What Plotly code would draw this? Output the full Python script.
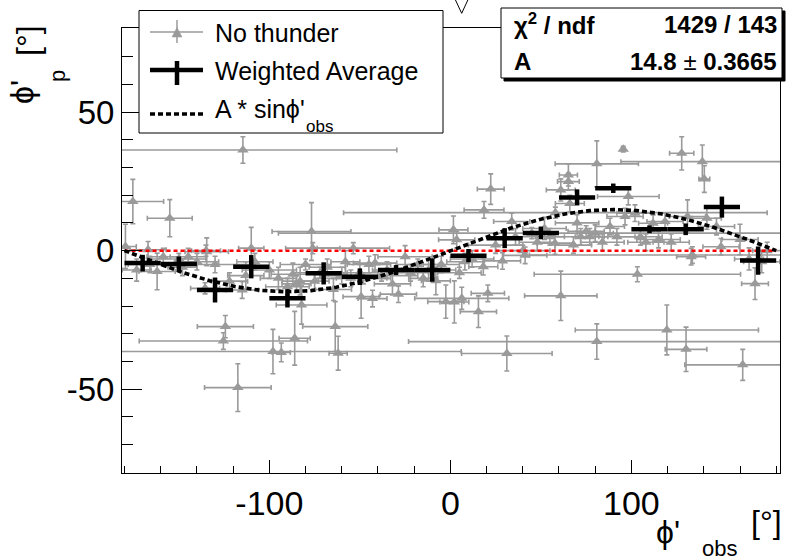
import numpy as np
import plotly.graph_objects as go

# ---------------- data ----------------
# grey points "No thunder": x, y, x-error, y-error
nt_x = [-179.5, -175.4, -173.3, -167, -166, -162, -158.6, -155, -150, -148, -144.8, -140, -135, -134.6,
        -135.5, -130, -125.4, -124.3, -122, -117.4, -115, -114.6, -113, -110, -108, -100, -98, -95,
        -93.4, -90, -87, -86, -85, -83, -82.2, -80, -76.7, -76, -75, -72, -68, -64.6, -63.6, -62,
        -60, -58, -55, -53.6, -50, -49.3, -48, -45, -43, -41.6, -38, -35, -32, -28.7, -25, -22,
        -18, -15, -12, -8, -5, -2.5, 1.7, 2.2, 3.5, 5, 6.3, 8, 12, 15.5, 18.2, 18.6, 20.7, 22.3,
        25, 28.8, 31.2, 33.9, 36, 40, 41.3, 45, 48, 52, 55, 57.8, 58, 61, 61, 65.2, 65.2, 66, 68,
        70, 72, 75, 77, 80, 80.9, 80.9, 84, 88.2, 92, 95.5, 96.5, 98.3, 102, 103.3, 105, 108, 112,
        115, 118.6, 119.6, 122, 127.8, 130.2, 131, 133, 133.7, 139.2, 140.3, 141.7, 147, 149.5,
        160, 161.5, 165, 168.3, 172, 175]
nt_y = [1.5, 17.7, -7, 0.3, -5, -7.5, -2.2, 11.7, -3, -6, -2.2, -4, 0, -0.4,
        -13.6, -5, -32.6, -27.4, -11, -49.4, -14.2, 36.3, -9, 0.9, -4, -7, -36.4, -10,
        -36.7, -13, -8.5, -31.6, -12, -11, -19.6, -5, 6.9, 0.9, -11, -8, -6, -14, -27.4, -37,
        -9, -4, -10, 0.9, -8, -16.6, -10, -5, -17.3, -4.5, -9, -7, -12, -15.7, -2.2, -8,
        -5, -10, -7, -10.9, -5, -18.4, 7.5, -18.5, 3.9, -8, -17.2, -4, -3, -22, -5.8, 14.7, -15.4, 22.2,
        2, -3.7, -37.1, 10.5, 5, 0, -1.7, 6.3, 3, 8, 5, 2.7, 13.7, 21.9, -16.3, 24.9, 27.3, 17, 2,
        10, 5, 7, 5, 6.3, 31.3, -32.8, 3, 8.7, 5, 36.6, 12.3, 19.5, 13.5, -8.5, 5, 3, 9.9,
        4, 10.5, -28.6, 3, 35.1, -35.6, 12.3, -2.2, -1.6, 32.1, 25.8, 11.7, 8.7, 1.4,
        4, -41.2, -3, -11.9, -4, 0]
nt_ex = [6, 17, 8, 10, 12, 10, 9, 12.4, 15, 8, 10, 12, 8, 12,
         8, 20, 46.5, 15.5, 10, 18.4, 9, 85, 10, 7, 10, 15, 104, 10,
         5, 12, 12, 8.6, 8, 10, 14, 14, 21.8, 15, 8, 15, 10, 10, 18, 5,
         12, 8, 20, 20, 10, 10, 15, 12, 8, 12, 20, 8, 10, 10, 15, 10,
         12, 8, 15, 8, 10, 10, 8, 8, 10, 12, 26, 10, 12, 10, 8, 11, 9.2, 7.4,
         15, 10, 25, 10, 12, 15, 12, 140, 10, 12, 8, 10, 117, 8, 20, 6, 5, 8, 10,
         12, 15, 10, 8, 10, 23, 104, 12, 8, 10, 1, 10, 17, 10, 57, 12, 10, 8,
         12, 10, 50.6, 10, 6.7, 11.5, 10, 8, 90, 45, 3, 8, 10, 10,
         10, 32, 8, 7.4, 10, 8]
nt_ey = [8, 8, 4, 3, 3, 6.6, 3, 6.7, 2, 3, 3, 3, 2, 5,
         2, 3, 3, 4, 3, 8.6, 3, 4.8, 5, 7.5, 3, 3, 8, 4,
         3.4, 3, 4, 9.7, 3, 5, 6.9, 2, 10.4, 2, 3, 2, 3, 4, 9, 6.1,
         3, 4, 3, 2, 3, 7.8, 2, 3, 3, 3, 2, 3, 4, 3, 4, 3,
         2, 3, 4, 5, 3, 6, 5, 7.6, 3, 2, 4, 3, 3, 5.7, 3, 3, 3, 5.5,
         3, 3, 6.3, 3, 3, 2, 3, 2, 3, 4, 3, 4, 2, 4, 8.9, 3, 4, 3, 3,
         3, 3, 2, 3, 3, 8.3, 6.4, 3, 3, 3, 1, 3, 3, 3, 2.7, 3, 3, 3,
         3, 3, 9, 3, 6, 8, 6, 3, 3, 6, 4.8, 4, 3, 3,
         5.5, 5.6, 4, 5.7, 4, 3]

# weighted average per 20 degree bin
wa_x = [-170, -150, -130, -110, -90, -70, -50, -30, -10, 10, 30, 50, 70, 90, 110, 130, 150, 170]
wa_y = [-4.5, -4.8, -14.2, -5.8, -17.2, -8.2, -9.4, -7.0, -7.0, -1.8, 4.5, 6.4, 19.2, 22.5, 7.7, 7.7, 15.7, -3.6]
wa_ey = [3.0, 2.7, 4.5, 4.2, 3.3, 4.0, 3.0, 1.8, 4.2, 2.4, 3.6, 2.3, 2.9, 1.7, 1.4, 2.1, 3.8, 5.1]
wa_ex = [10] * 18

fit_A = 14.8
fit_x = np.linspace(-180, 180, 361)
fit_y = fit_A * np.sin(np.radians(fit_x))

x_ticks = [-100, 0, 100]
y_ticks = [-50, 0, 50]

# ---------------- geometry helpers (pixels -> paper) ----------------
W, H = 791, 560
L, R, T, B = 122, 780, 28, 473
def PX(x):
    return (x - L) / (R - L)
def PY(y):
    return (B - y) / (B - T)

GREY = "#9a9a9a"
FONT = "Liberation Sans, Arial, Helvetica, sans-serif"
PHI = "ϕ"

fig = go.Figure()

fig.add_trace(go.Scatter(
    x=nt_x, y=nt_y, mode="markers",
    marker=dict(symbol="triangle-up", size=10, color=GREY),
    error_x=dict(type="data", array=nt_ex, color=GREY, thickness=1.6, width=2.5),
    error_y=dict(type="data", array=nt_ey, color=GREY, thickness=1.6, width=2.5),
    showlegend=False, hoverinfo="skip"))

fig.add_trace(go.Scatter(
    x=[-180, 180], y=[0, 0], mode="lines",
    line=dict(color="#ff0000", width=2.5, dash="4px,3px"),
    showlegend=False, hoverinfo="skip"))

fig.add_trace(go.Scatter(
    x=fit_x, y=fit_y, mode="lines",
    line=dict(color="black", width=3.6, dash="5px,3px"),
    showlegend=False, hoverinfo="skip"))

fig.add_trace(go.Scatter(
    x=wa_x, y=wa_y, mode="markers",
    marker=dict(size=1, color="black"),
    error_x=dict(type="data", array=wa_ex, color="black", thickness=4.5, width=0),
    error_y=dict(type="data", array=wa_ey, color="black", thickness=4.5, width=0),
    showlegend=False, hoverinfo="skip"))

shapes = []
ann = []

# legend box
shapes.append(dict(type="rect", xref="paper", yref="paper", x0=PX(139), x1=PX(443), y0=PY(133), y1=PY(10.5),
                   line=dict(color="black", width=1), fillcolor="white", layer="above"))
# row 1: grey line + triangle + error bar
shapes.append(dict(type="line", xref="paper", yref="paper", x0=PX(150), x1=PX(203), y0=PY(32), y1=PY(32),
                   line=dict(color=GREY, width=1.5)))
shapes.append(dict(type="line", xref="paper", yref="paper", x0=PX(177), x1=PX(177), y0=PY(20), y1=PY(43),
                   line=dict(color=GREY, width=1.5)))
tri = "M {},{} L {},{} L {},{} Z".format(PX(172), PY(37), PX(182), PY(37), PX(177), PY(27.5))
shapes.append(dict(type="path", xref="paper", yref="paper", path=tri, fillcolor=GREY, line=dict(color=GREY, width=0.5)))
# row 2: black cross
shapes.append(dict(type="line", xref="paper", yref="paper", x0=PX(150), x1=PX(203), y0=PY(70), y1=PY(70),
                   line=dict(color="black", width=4.5)))
shapes.append(dict(type="line", xref="paper", yref="paper", x0=PX(177), x1=PX(177), y0=PY(61), y1=PY(85),
                   line=dict(color="black", width=4.5)))
# row 3: dotted line
shapes.append(dict(type="line", xref="paper", yref="paper", x0=PX(150), x1=PX(203), y0=PY(114), y1=PY(114),
                   line=dict(color="black", width=3.6, dash="5px,3px")))

ann.append(dict(x=PX(213), y=PY(33), xref="paper", yref="paper", text="No thunder", showarrow=False,
                xanchor="left", yanchor="middle", font=dict(size=25, family=FONT, color="black")))
ann.append(dict(x=PX(213), y=PY(71), xref="paper", yref="paper", text="Weighted Average", showarrow=False,
                xanchor="left", yanchor="middle", font=dict(size=25, family=FONT, color="black")))
ann.append(dict(x=PX(213), y=PY(109), xref="paper", yref="paper", text="A * sin" + PHI + "'", showarrow=False,
                xanchor="left", yanchor="middle", font=dict(size=25, family=FONT, color="black")))
ann.append(dict(x=PX(304), y=PY(126), xref="paper", yref="paper", text="obs", showarrow=False,
                xanchor="left", yanchor="middle", font=dict(size=17, family=FONT, color="black")))

# stats box with shadow
shapes.append(dict(type="rect", xref="paper", yref="paper", x0=PX(504), x1=PX(785), y0=PY(81), y1=PY(11),
                   line=dict(color="black", width=1), fillcolor="black", layer="above"))
shapes.append(dict(type="rect", xref="paper", yref="paper", x0=PX(501), x1=PX(782), y0=PY(78), y1=PY(8),
                   line=dict(color="black", width=1), fillcolor="white", layer="above"))
ann.append(dict(x=PX(512), y=PY(24), xref="paper", yref="paper", text="<b>χ<sup>2</sup> / ndf</b>", showarrow=False,
                xanchor="left", yanchor="middle", font=dict(size=24, family=FONT, color="black")))
ann.append(dict(x=PX(779), y=PY(24), xref="paper", yref="paper", text="<b>1429 / 143</b>", showarrow=False,
                xanchor="right", yanchor="middle", font=dict(size=24, family=FONT, color="black")))
ann.append(dict(x=PX(512), y=PY(61), xref="paper", yref="paper", text="<b>A</b>", showarrow=False,
                xanchor="left", yanchor="middle", font=dict(size=24, family=FONT, color="black")))
ann.append(dict(x=PX(779), y=PY(61), xref="paper", yref="paper", text="<b>14.8</b> ± <b>0.3665</b>", showarrow=False,
                xanchor="right", yanchor="middle", font=dict(size=24, family=FONT, color="black")))

# clipped glyph at top
vpath = "M {},{} L {},{} L {},{}".format(PX(455), PY(-1), PX(461.7), PY(13.3), PX(468.3), PY(-1))
shapes.append(dict(type="path", xref="paper", yref="paper", path=vpath, line=dict(color="black", width=1)))

# axis titles (ROOT style, right/top aligned)
ann.append(dict(x=PX(22), y=PY(92), xref="paper", yref="paper", text=PHI + "'", showarrow=False, textangle=-90,
                xanchor="center", yanchor="middle", font=dict(size=32, family=FONT, color="black")))
ann.append(dict(x=PX(58), y=PY(76), xref="paper", yref="paper", text="p", showarrow=False, textangle=-90,
                xanchor="center", yanchor="middle", font=dict(size=22, family=FONT, color="black")))
ann.append(dict(x=PX(28), y=PY(41), xref="paper", yref="paper", text="[°]", showarrow=False, textangle=-90,
                xanchor="center", yanchor="middle", font=dict(size=32, family=FONT, color="black")))

ann.append(dict(x=PX(668), y=PY(532), xref="paper", yref="paper", text=PHI + "'", showarrow=False,
                xanchor="center", yanchor="middle", font=dict(size=32, family=FONT, color="black")))
ann.append(dict(x=PX(719), y=PY(548), xref="paper", yref="paper", text="obs", showarrow=False,
                xanchor="center", yanchor="middle", font=dict(size=22, family=FONT, color="black")))
ann.append(dict(x=PX(766), y=PY(522), xref="paper", yref="paper", text="[°]", showarrow=False,
                xanchor="center", yanchor="middle", font=dict(size=32, family=FONT, color="black")))

fig.update_layout(
    width=W, height=H,
    margin=dict(l=L, r=W - R, t=T, b=H - B, pad=0),
    paper_bgcolor="white", plot_bgcolor="white",
    showlegend=False,
    shapes=shapes, annotations=ann,
    font=dict(family=FONT, color="black"),
)
fig.update_xaxes(
    range=[-181.4, 182.1], tickvals=x_ticks, ticktext=[str(v) for v in x_ticks],
    ticks="inside", ticklen=13, tickwidth=1, tickcolor="black",
    minor=dict(dtick=20, tick0=0, ticks="inside", ticklen=7, tickcolor="black", tickwidth=1, showgrid=False),
    showline=True, linecolor="black", linewidth=1, mirror=True,
    showgrid=False, zeroline=False,
    tickfont=dict(size=34, family=FONT, color="black"),
)
fig.update_yaxes(
    range=[-80.2, 80.3], tickvals=y_ticks, ticktext=[str(v) for v in y_ticks],
    ticks="inside", ticklen=20, tickwidth=1, tickcolor="black",
    minor=dict(dtick=10, tick0=0, ticks="inside", ticklen=11, tickcolor="black", tickwidth=1, showgrid=False),
    showline=True, linecolor="black", linewidth=1, mirror=True,
    showgrid=False, zeroline=False,
    tickfont=dict(size=33, family=FONT, color="black"),
)

fig.write_html("out.html")
